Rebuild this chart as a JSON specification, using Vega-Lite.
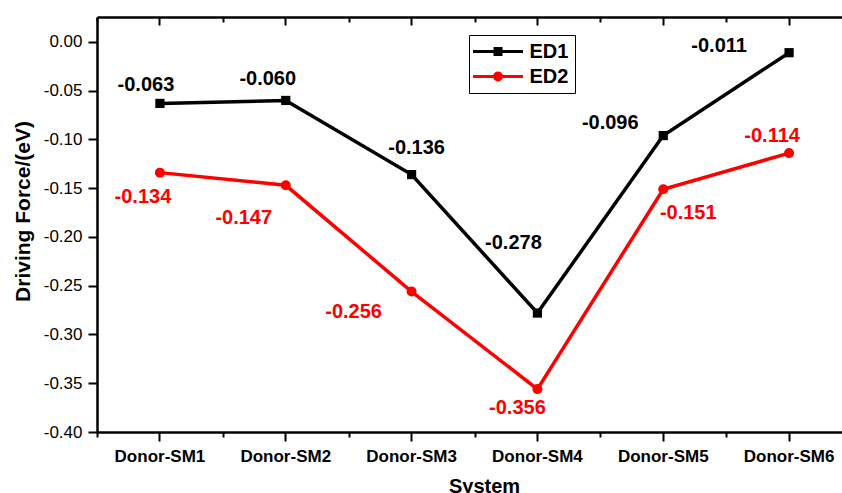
{
  "$schema": "https://vega.github.io/schema/vega-lite/v6.json",
  "autosize": "none",
  "padding": {"left": 97, "top": 17, "right": 0, "bottom": 61},
  "width": 745,
  "height": 415,
  "background": "white",
  "config": {
    "view": {"stroke": null},
    "font": "Liberation Sans",
    "axis": {
      "grid": false,
      "domainColor": "black",
      "tickColor": "black",
      "labelColor": "black",
      "titleColor": "black",
      "labelFont": "Liberation Sans",
      "titleFont": "Liberation Sans"
    },
    "legend": {"labelFont": "Liberation Sans"},
    "text": {"font": "Liberation Sans", "fontSize": 20, "fontWeight": "bold", "align": "center", "baseline": "middle"}
  },
  "data": {
    "values": [
      {"series": "ED1", "system": "Donor-SM1", "force": -0.063},
      {"series": "ED1", "system": "Donor-SM2", "force": -0.060},
      {"series": "ED1", "system": "Donor-SM3", "force": -0.136},
      {"series": "ED1", "system": "Donor-SM4", "force": -0.278},
      {"series": "ED1", "system": "Donor-SM5", "force": -0.096},
      {"series": "ED1", "system": "Donor-SM6", "force": -0.011},
      {"series": "ED2", "system": "Donor-SM1", "force": -0.134},
      {"series": "ED2", "system": "Donor-SM2", "force": -0.147},
      {"series": "ED2", "system": "Donor-SM3", "force": -0.256},
      {"series": "ED2", "system": "Donor-SM4", "force": -0.356},
      {"series": "ED2", "system": "Donor-SM5", "force": -0.151},
      {"series": "ED2", "system": "Donor-SM6", "force": -0.114}
    ]
  },
  "layer": [
    {
      "mark": {"type": "line", "strokeWidth": 3.5},
      "encoding": {
        "x": {
          "field": "system", "type": "nominal", "sort": null,
          "scale": {"type": "band", "paddingInner": 0, "paddingOuter": 0, "range": [0, 755]},
          "axis": {
            "orient": "bottom",
            "title": "System",
            "titleFontSize": 20, "titleFontWeight": "bold",
            "titleX": 387, "titleY": 60, "titleAlign": "center", "titleBaseline": "alphabetic",
            "labelFontSize": 17, "labelFontWeight": "bold", "labelAngle": 0, "labelPadding": 7,
            "tickSize": 9, "tickWidth": 2, "domainWidth": 2.5
          }
        },
        "y": {
          "field": "force", "type": "quantitative",
          "scale": {"domain": [-0.4, 0.0256], "nice": false, "zero": false},
          "axis": {
            "orient": "left",
            "values": [-0.4, -0.375, -0.35, -0.325, -0.3, -0.275, -0.25, -0.225, -0.2, -0.175, -0.15, -0.125, -0.1, -0.075, -0.05, -0.025, 0],
            "labelExpr": "abs(round(datum.value * 40)) % 2 == 1 ? '' : replace(format(datum.value, '.2f'), '−', '-')",
            "tickSize": {"condition": {"test": "abs(round(datum.value * 40)) % 2 == 1", "value": 5}, "value": 9},
            "tickWidth": 2, "domainWidth": 2.5,
            "labelFontSize": 17, "labelPadding": 6,
            "title": "Driving Force/(eV)",
            "titleFontSize": 21, "titleFontWeight": "bold",
            "titleX": -74, "titleY": 194, "titleAngle": -90, "titleAlign": "center", "titleBaseline": "middle"
          }
        },
        "stroke": {
          "field": "series", "type": "nominal",
          "scale": {"domain": ["ED1", "ED2"], "range": ["#000000", "#ff0000"]},
          "legend": {
            "orient": "none", "legendX": 372, "legendY": 18,
            "title": null,
            "padding": 6.5, "rowPadding": 5,
            "strokeColor": "black",
            "symbolType": {"expr": "datum.value === 'ED1' ? 'M-2.5,0H7.5M1.9,-0.6H3.1V0.6H1.9Z' : 'M-2.5,0H7.5M3.2,0A0.7,0.7 0 1,1 1.8,0A0.7,0.7 0 1,1 3.2,0Z'"},
            "symbolSize": 100, "symbolStrokeWidth": 3,
            "labelFontSize": 20, "labelFontWeight": "bold", "labelColor": "black", "labelOffset": 34,
            "encode": {
              "symbols": {
                "update": {
                  "fill": {"signal": "datum.value === 'ED1' ? 'black' : 'red'"},
                  "stroke": {"signal": "datum.value === 'ED1' ? 'black' : 'red'"},
                  "strokeWidth": {"value": 3},
                  "opacity": {"value": 1}
                }
              }
            }
          }
        }
      }
    },
    {
      "transform": [{"filter": "datum.series === 'ED1'"}],
      "mark": {"type": "point", "shape": "square", "filled": true, "size": 85, "opacity": 1, "color": "#000000"},
      "encoding": {
        "x": {
          "field": "system", "type": "nominal", "sort": null,
          "axis": {"orient": "bottom", "labels": false, "title": null, "domain": false, "tickBand": "extent", "tickSize": 5, "tickWidth": 2}
        },
        "y": {"field": "force", "type": "quantitative"}
      }
    },
    {
      "transform": [{"filter": "datum.series === 'ED2'"}],
      "mark": {"type": "point", "shape": "circle", "filled": true, "size": 100, "opacity": 1, "color": "#ff0000"},
      "encoding": {
        "x": {"field": "system", "type": "nominal", "sort": null, "axis": null},
        "y": {"field": "force", "type": "quantitative"}
      }
    },
    {
      "transform": [
        {"filter": "datum.series === 'ED1'"},
        {"calculate": "replace(format(datum.force, '.3f'), '−', '-')", "as": "label"}
      ],
      "encoding": {
        "x": {
          "field": "system", "type": "nominal", "sort": null,
          "axis": {"orient": "top", "labels": false, "title": null, "tickSize": -8, "tickWidth": 2, "domainWidth": 2.5}
        },
        "y": {"field": "force", "type": "quantitative"},
        "text": {"field": "label"},
        "color": {"value": "black"}
      },
      "layer": [
        {"transform": [{"filter": "datum.system === 'Donor-SM1'"}], "mark": {"type": "text", "dx": -14, "dy": -18}},
        {"transform": [{"filter": "datum.system === 'Donor-SM2'"}], "mark": {"type": "text", "dx": -18, "dy": -21}},
        {"transform": [{"filter": "datum.system === 'Donor-SM3'"}], "mark": {"type": "text", "dx": 5, "dy": -27}},
        {"transform": [{"filter": "datum.system === 'Donor-SM4'"}], "mark": {"type": "text", "dx": -24, "dy": -70}},
        {"transform": [{"filter": "datum.system === 'Donor-SM5'"}], "mark": {"type": "text", "dx": -53, "dy": -13}},
        {"transform": [{"filter": "datum.system === 'Donor-SM6'"}], "mark": {"type": "text", "dx": -70, "dy": -7}}
      ]
    },
    {
      "transform": [
        {"filter": "datum.series === 'ED2'"},
        {"calculate": "replace(format(datum.force, '.3f'), '−', '-')", "as": "label"}
      ],
      "encoding": {
        "x": {
          "field": "system", "type": "nominal", "sort": null,
          "axis": {"orient": "top", "labels": false, "title": null, "domain": false, "tickBand": "extent", "tickSize": -5, "tickWidth": 2}
        },
        "y": {"field": "force", "type": "quantitative"},
        "text": {"field": "label"},
        "color": {"value": "#ff0000"}
      },
      "layer": [
        {"transform": [{"filter": "datum.system === 'Donor-SM1'"}], "mark": {"type": "text", "dx": -17, "dy": 24}},
        {"transform": [{"filter": "datum.system === 'Donor-SM2'"}], "mark": {"type": "text", "dx": -42, "dy": 33}},
        {"transform": [{"filter": "datum.system === 'Donor-SM3'"}], "mark": {"type": "text", "dx": -58, "dy": 20}},
        {"transform": [{"filter": "datum.system === 'Donor-SM4'"}], "mark": {"type": "text", "dx": -20, "dy": 19}},
        {"transform": [{"filter": "datum.system === 'Donor-SM5'"}], "mark": {"type": "text", "dx": 25, "dy": 24}},
        {"transform": [{"filter": "datum.system === 'Donor-SM6'"}], "mark": {"type": "text", "dx": -17, "dy": -17}}
      ]
    }
  ],
  "resolve": {"axis": {"x": "independent"}}
}
